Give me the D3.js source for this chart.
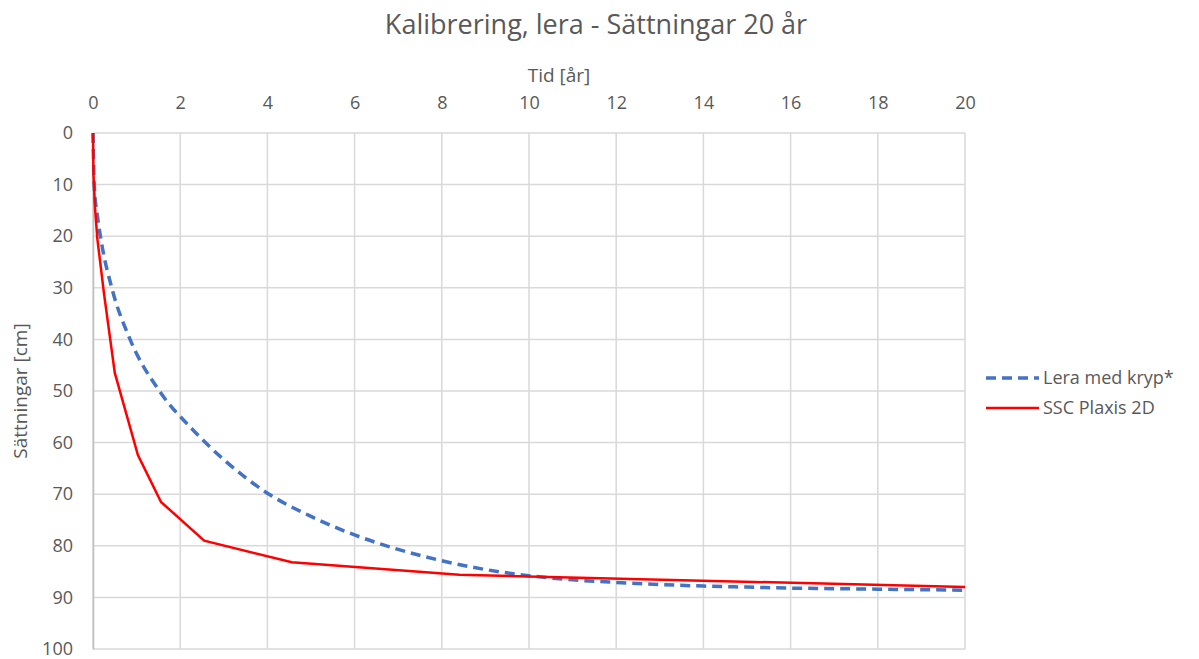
<!DOCTYPE html>
<html>
<head>
<meta charset="utf-8">
<script src="https://cdn.jsdelivr.net/npm/d3@7"></script>
<style>
  body { margin: 0; background: #fff; }
  text { font-family: "Open Sans", "Noto Sans", sans-serif; fill: #595959; }
</style>
</head>
<body>
<svg id="chart"></svg>
<script>
// data
const xTicks = [0, 2, 4, 6, 8, 10, 12, 14, 16, 18, 20];
const yTicks = [0, 10, 20, 30, 40, 50, 60, 70, 80, 90, 100];

const kryp_t = [0, 0.03, 0.1, 0.2, 0.43, 0.85, 1.54, 2.3, 3, 4, 5, 6, 7, 8, 9, 10, 11, 12, 13, 14, 15, 16, 17, 18, 19, 20];
const kryp_s = [0, 10.5, 16, 21.5, 30, 40, 50.2, 57.6, 63.3, 69.8, 74.3, 77.9, 80.7, 82.9, 84.6, 85.8, 86.6, 87.1, 87.5, 87.8, 88, 88.2, 88.3, 88.4, 88.5, 88.6];

const plaxis_t = [0, 0.01, 0.05, 0.1, 0.25, 0.5, 1.03, 1.56, 2.55, 4.56, 8.4, 20];
const plaxis_s = [0, 8, 15, 20.5, 31, 46.5, 62.4, 71.5, 79, 83.2, 85.6, 88];

const seriesNames = ["Lera med kryp*", "SSC Plaxis 2D"];

class SettlementChart {
    constructor(config) {
        this.config = {
            parent: config.parent,
            width: config.width || 1199,
            height: config.height || 659,
            margin: config.margin || {top: 133, right: 234, bottom: 10, left: 93}
        };
        this.init();
    }

    init() {
        let self = this;
        self.svg = d3.select(self.config.parent)
            .attr('width', self.config.width)
            .attr('height', self.config.height);

        self.inner_width = 965 - self.config.margin.left;
        self.inner_height = 649 - self.config.margin.top;

        self.chart = self.svg.append('g')
            .attr('transform', `translate(${self.config.margin.left}, ${self.config.margin.top})`);

        self.xscale = d3.scaleLinear().domain([0, 20]).range([0, self.inner_width]);
        self.yscale = d3.scaleLinear().domain([0, 100]).range([0, self.inner_height]);
    }

    render() {
        let self = this;

        // grid
        self.chart.append('g')
            .selectAll('line')
            .data(xTicks)
            .join('line')
            .attr('x1', d => self.xscale(d)).attr('x2', d => self.xscale(d))
            .attr('y1', 0).attr('y2', self.inner_height)
            .attr('stroke', '#d9d9d9').attr('stroke-width', 1.5);

        self.chart.append('g')
            .selectAll('line')
            .data(yTicks)
            .join('line')
            .attr('x1', 0).attr('x2', self.inner_width)
            .attr('y1', d => self.yscale(d)).attr('y2', d => self.yscale(d))
            .attr('stroke', '#d9d9d9').attr('stroke-width', 1.5);

        // axes
        const xaxis = d3.axisTop(self.xscale).tickValues(xTicks).tickSize(0).tickPadding(24);
        const xg = self.chart.append('g').call(xaxis);
        xg.select('.domain').remove();
        xg.selectAll('text').attr('font-size', 18).style('fill', '#595959')
            .attr('font-family', '"Open Sans", sans-serif');

        const yaxis = d3.axisLeft(self.yscale).tickValues(yTicks).tickSize(0).tickPadding(20);
        const yg = self.chart.append('g').call(yaxis);
        yg.select('.domain').attr('stroke', '#bfbfbf').attr('stroke-width', 1.5);
        yg.selectAll('text').attr('font-size', 18).style('fill', '#595959')
            .attr('font-family', '"Open Sans", sans-serif');

        // lines
        const kryp = kryp_t.map((t, i) => ({t: t, s: kryp_s[i]}));
        const plaxis = plaxis_t.map((t, i) => ({t: t, s: plaxis_s[i]}));

        const smooth = d3.line().x(d => self.xscale(d.t)).y(d => self.yscale(d.s)).curve(d3.curveMonotoneX);
        const straight = d3.line().x(d => self.xscale(d.t)).y(d => self.yscale(d.s));

        self.chart.append('path')
            .attr('d', smooth(kryp))
            .attr('fill', 'none')
            .attr('stroke', '#4472c4')
            .attr('stroke-width', 3.5)
            .attr('stroke-dasharray', '10,6');

        self.chart.append('path')
            .attr('d', straight(plaxis))
            .attr('fill', 'none')
            .attr('stroke', '#ff0000')
            .attr('stroke-width', 2.5);

        // titles
        self.svg.append('text')
            .attr('x', 596).attr('y', 34)
            .attr('text-anchor', 'middle')
            .attr('font-size', 27)
            .text('Kalibrering, lera - Sättningar 20 år');

        self.svg.append('text')
            .attr('x', 559).attr('y', 82)
            .attr('text-anchor', 'middle')
            .attr('font-size', 19)
            .text('Tid [år]');

        self.svg.append('text')
            .attr('transform', 'translate(27, 391) rotate(-90)')
            .attr('text-anchor', 'middle')
            .attr('font-size', 19)
            .text('Sättningar [cm]');

        // legend
        const legend = self.svg.append('g').attr('transform', 'translate(986, 378)');
        const items = legend.selectAll('g').data(seriesNames).join('g')
            .attr('transform', (d, i) => `translate(0, ${i * 30})`);
        items.append('line')
            .attr('x1', 0).attr('x2', 53).attr('y1', 0).attr('y2', 0)
            .attr('stroke', (d, i) => i === 0 ? '#4472c4' : '#ff0000')
            .attr('stroke-width', (d, i) => i === 0 ? 3.5 : 2.5)
            .attr('stroke-dasharray', (d, i) => i === 0 ? '10,6' : null);
        items.append('text')
            .attr('x', 57).attr('y', 6)
            .attr('font-size', 18)
            .text(d => d);
    }
}

let chart = new SettlementChart({parent: '#chart'});
chart.render();
</script>
</body>
</html>
